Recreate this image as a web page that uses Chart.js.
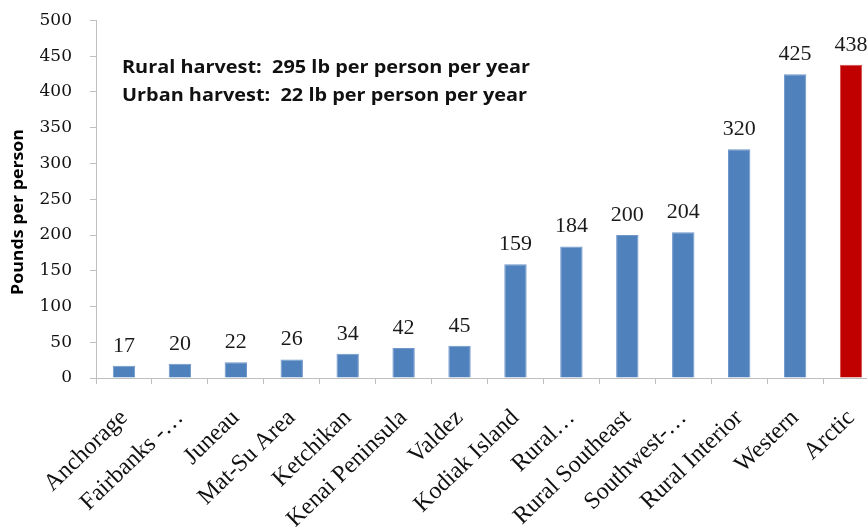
<!DOCTYPE html>
<html>
<head>
<meta charset="utf-8">
<script src="https://cdn.jsdelivr.net/npm/chart.js@4.4.1/dist/chart.umd.min.js"></script>
<style>
  html, body { margin: 0; padding: 0; background: #fff; overflow: hidden; }
  #wrap { position: absolute; left: 0; top: 0; width: 880px; height: 527px; }
</style>
</head>
<body>
<div id="wrap"><canvas id="c" width="880" height="527"></canvas></div>
<script>
const categories = ["Anchorage", "Fairbanks -\u2026", "Juneau", "Mat-Su Area", "Ketchikan", "Kenai Peninsula", "Valdez", "Kodiak Island", "Rural\u2026", "Rural Southeast", "Southwest-\u2026", "Rural Interior", "Western", "Arctic"];
const poundsPerPerson = [17, 20, 22, 26, 34, 42, 45, 159, 184, 200, 204, 320, 425, 438];
const highlightCategory = "Arctic";
const yTicks = [0, 50, 100, 150, 200, 250, 300, 350, 400, 450, 500];
const notes = ["Rural harvest:  295 lb per person per year", "Urban harvest:  22 lb per person per year"];
const yTitle = "Pounds per person";

const BLUE = '#4F81BD', RED = '#C00000';
const barColors = categories.map(c => c === highlightCategory ? RED : BLUE);
const borderColors = categories.map(c => c === highlightCategory ? '#D44A4A' : '#6F97CA');

const labelPlugin = {
  id: 'labelsAndNotes',
  afterDatasetsDraw(chart) {
    const ctx = chart.ctx;
    const meta = chart.getDatasetMeta(0);
    ctx.save();
    ctx.fillStyle = '#1a1a1a';
    ctx.font = '22px "Liberation Serif"';
    ctx.textAlign = 'center';
    ctx.textBaseline = 'alphabetic';
    meta.data.forEach((el, i) => {
      ctx.fillText(String(poundsPerPerson[i]), el.x, el.y - 14);
    });
    const a = chart.chartArea;
    // notes (text block, horizontally stretched like the reference)
    ctx.textAlign = 'left';
    ctx.fillStyle = '#111';
    ctx.font = 'bold 17px "Open Sans"';
    const w0 = ctx.measureText(notes[0]).width;
    const sx = 408 / w0;
    notes.forEach((t, i) => {
      ctx.save();
      ctx.translate(a.left + 26, 73 + i * 27.5);
      ctx.scale(sx, 1);
      ctx.fillText(t, 0, 0);
      ctx.restore();
    });
    // y-axis title
    ctx.save();
    ctx.font = 'bold 16px "Open Sans"';
    ctx.fillStyle = '#000';
    ctx.textAlign = 'center';
    ctx.textBaseline = 'middle';
    const tw = ctx.measureText(yTitle).width;
    ctx.translate(18, 212);
    ctx.rotate(-Math.PI / 2);
    ctx.scale(166 / tw, 1);
    ctx.fillText(yTitle, 0, 0);
    ctx.restore();
    ctx.restore();
  }
};

new Chart(document.getElementById('c'), {
  type: 'bar',
  data: {
    labels: categories,
    datasets: [{
      data: poundsPerPerson,
      backgroundColor: barColors,
      borderColor: borderColors,
      borderWidth: 1,
      barPercentage: 0.4,
      categoryPercentage: 1.0
    }]
  },
  options: {
    responsive: false,
    devicePixelRatio: 1,
    animation: false,
    layout: { padding: { top: 20.5, right: 1, left: 0, bottom: 0 } },
    plugins: { legend: { display: false }, tooltip: { enabled: false } },
    scales: {
      x: {
        offset: true,
        grid: { drawOnChartArea: false, offset: true, tickLength: 6, color: '#BFBFBF' },
        border: { color: '#BFBFBF' },
        ticks: {
          autoSkip: false, minRotation: 44, maxRotation: 44,
          color: '#111', padding: 20,
          font: { family: '"Liberation Serif"', size: 24 }
        },
        afterFit: s => { s.height = 149; s.paddingLeft = 0; s.paddingRight = 0; }
      },
      y: {
        min: 0, max: 500,
        afterBuildTicks: s => { s.ticks = yTicks.map(v => ({ value: v })); },
        grid: { drawOnChartArea: false, tickLength: 6, color: '#BFBFBF' },
        border: { color: '#BFBFBF' },
        ticks: {
          color: '#111', padding: 18,
          font: { family: '"DejaVu Serif"', size: 17 }
        },
        afterFit: s => { s.width = 96; s.paddingTop = 0; s.paddingBottom = 0; }
      }
    }
  },
  plugins: [labelPlugin]
});
</script>
</body>
</html>
